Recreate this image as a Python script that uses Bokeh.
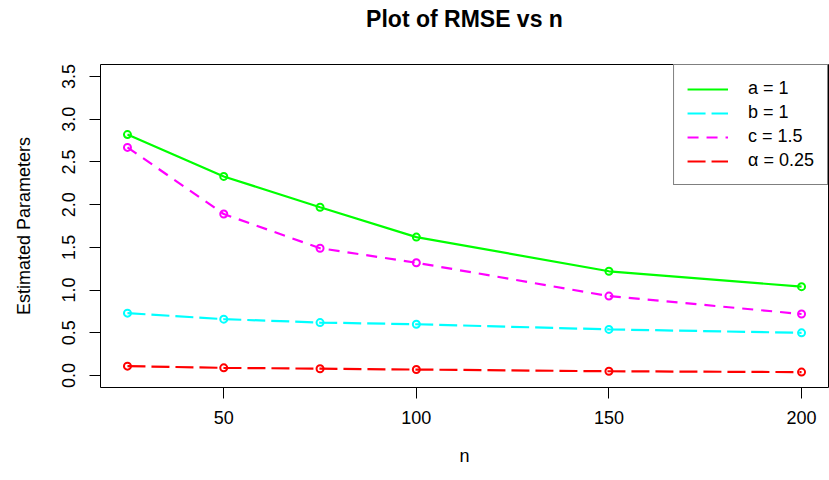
from bokeh.plotting import figure
from bokeh.models import Range1d, FixedTicker, Legend, LegendItem, NumeralTickFormatter, ColumnDataSource, Title
from bokeh.embed import file_html
from bokeh.resources import INLINE

# ---- data ----
n = [25, 50, 75, 100, 150, 200]
rmse_a = [2.82, 2.33, 1.97, 1.62, 1.22, 1.04]
rmse_b = [0.73, 0.66, 0.62, 0.60, 0.54, 0.50]
rmse_c = [2.67, 1.89, 1.49, 1.32, 0.93, 0.72]
rmse_alpha = [0.11, 0.09, 0.08, 0.07, 0.05, 0.04]

labels = ["a = 1", "b = 1", "c = 1.5", "\u03b1 = 0.25"]
x_ticks = [50, 100, 150, 200]
y_ticks = [0.0, 0.5, 1.0, 1.5, 2.0, 2.5, 3.0, 3.5]
title_text = "Plot of RMSE vs n"

FONT = "Liberation Sans"

p = figure(
    frame_width=728, frame_height=323,
    min_border_left=100, min_border_right=1, min_border_top=64, min_border_bottom=88,
    x_range=Range1d(18, 207), y_range=Range1d(-0.14, 3.64),
    output_backend="svg", toolbar_location=None,
    title_location=None,
)

# spacer panel next to the frame, then the real title above it
p.add_layout(Title(text=" ", text_font_size="1px", standoff=26), "above")
p.add_layout(Title(text=title_text, align="center", text_font=FONT, text_font_size="23px",
                   text_font_style="bold", text_color="black", standoff=7), "above")

p.grid.visible = False
p.outline_line_color = "black"
p.outline_line_width = 1
p.background_fill_color = "white"
p.border_fill_color = "white"

for ax in (p.xaxis[0], p.yaxis[0]):
    ax.axis_line_color = None
    ax.major_tick_line_color = "black"
    ax.major_tick_out = 11
    ax.major_tick_in = 0
    ax.minor_tick_line_color = None
    ax.major_label_text_font = FONT
    ax.major_label_text_font_size = "18px"
    ax.major_label_text_color = "black"
    ax.axis_label_text_font = FONT
    ax.axis_label_text_font_size = "18px"
    ax.axis_label_text_font_style = "normal"
    ax.axis_label_text_color = "black"

p.xaxis.ticker = FixedTicker(ticks=x_ticks)
p.yaxis.ticker = FixedTicker(ticks=y_ticks)
p.yaxis.formatter = NumeralTickFormatter(format="0.0")
p.yaxis.major_label_orientation = "vertical"
p.xaxis.axis_label = "n"
p.yaxis.axis_label = "Estimated Parameters"
p.xaxis.major_label_standoff = 12
p.yaxis.major_label_standoff = 14
p.xaxis.axis_label_standoff = 19
p.yaxis.axis_label_standoff = 26

series = [
    (rmse_a, "#00FF00", "solid"),
    (rmse_b, "#00FFFF", "18 6"),
    (rmse_c, "#FF00FF", "11 8"),
    (rmse_alpha, "#FF0000", "18 6"),
]

items = []
for (vals, color, dash), lab in zip(series, labels):
    src = ColumnDataSource(dict(x=n, y=vals))
    r = p.line("x", "y", source=src, line_color=color, line_width=2.2, line_dash=dash)
    p.scatter("x", "y", source=src, marker="circle", size=7, fill_color=None,
              line_color=color, line_width=2)
    items.append(LegendItem(label=lab, renderers=[r]))

legend = Legend(
    items=items, location="top_right", margin=0, padding=13, spacing=3,
    glyph_width=41, glyph_height=20, label_height=20, label_standoff=20,
    border_line_color="black", border_line_width=1,
    background_fill_color="white", background_fill_alpha=1,
    label_text_font=FONT, label_text_font_size="18px", label_text_color="black",
)
p.add_layout(legend)

open("out.html", "w").write(file_html(p, INLINE))
